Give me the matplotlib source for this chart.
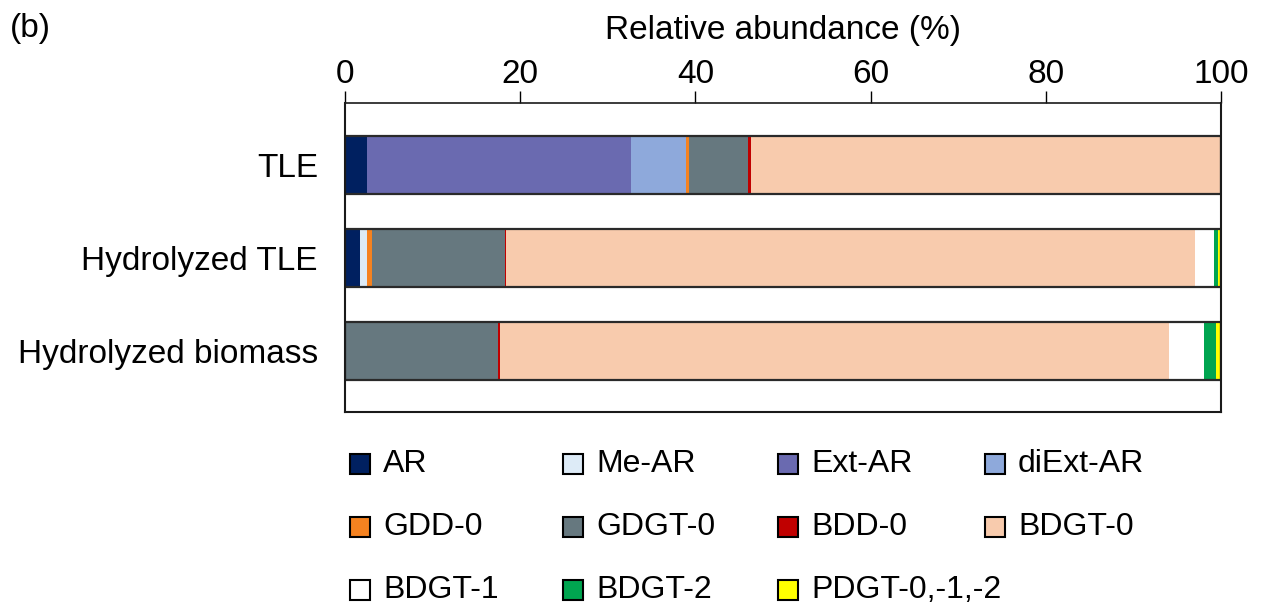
import matplotlib
matplotlib.use("Agg")
import matplotlib.pyplot as plt
from matplotlib.patches import Rectangle
import numpy as np

plt.rcParams['font.family'] = ['Liberation Sans', 'DejaVu Sans']

samples = ["TLE", "Hydrolyzed TLE", "Hydrolyzed biomass"]
components = ["AR", "Me-AR", "Ext-AR", "diExt-AR", "GDD-0", "GDGT-0",
              "BDD-0", "BDGT-0", "BDGT-1", "BDGT-2", "PDGT-0,-1,-2"]
colors = ["#002060", "#DDEBF7", "#6A6AB0", "#8EA9DB", "#F58220", "#66787F",
          "#C00000", "#F8CBAD", "#FFFFFF", "#00A550", "#FFFF00"]

# relative abundance (%) per component, one list per sample
tle        = [2.5, 0.0, 30.1, 6.3, 0.4, 6.7, 0.3, 53.7, 0.0, 0.0, 0.0]
hyd_tle    = [1.7, 0.8, 0.0, 0.0, 0.6, 15.2, 0.1, 78.6, 2.2, 0.5, 0.3]
hyd_bio    = [0.0, 0.0, 0.0, 0.0, 0.0, 17.5, 0.2, 76.4, 4.0, 1.3, 0.6]
data = np.array([tle, hyd_tle, hyd_bio])

fig = plt.figure(figsize=(12.63, 6.05), dpi=100)
ax = fig.add_axes([345/1263, 1-412/605, 876/1263, 309/605])

y = np.arange(len(samples))
h = 0.62
left = np.zeros(len(samples))
for j, comp in enumerate(components):
    ax.barh(y, data[:, j], left=left, height=h, color=colors[j], edgecolor='none')
    left += data[:, j]
ax.barh(y, data.sum(axis=1), height=h, fill=False, edgecolor='#2a2a2a', linewidth=1.6)

ax.set_xlim(0, 100)
ax.set_ylim(2.656, -0.667)
ax.set_yticks(y)
ax.set_yticklabels(samples, fontsize=24)
ax.tick_params(axis='y', length=0, pad=19.5)
ax.xaxis.tick_top()
ax.set_xticks([0, 20, 40, 60, 80, 100])
ax.tick_params(axis='x', labelsize=24, direction='out', length=8.6, width=1.0, pad=1)
for s in ax.spines.values():
    s.set_linewidth(1.5)
    s.set_color('#1a1a1a')
ax.spines['top'].set_linewidth(1.2)

fig.text(783/1263, 1-30/605, "Relative abundance (%)", fontsize=24, va='center', ha='center')
fig.text(10/1263, 1-28/605, "(b)", fontsize=24, va='center', ha='left')

# legend laid out manually in a 4-column grid
col_x = [350, 563, 778, 985]
row_y = [464, 527, 590]
for i, (comp, c) in enumerate(zip(components, colors)):
    r, k = divmod(i, 4)
    x0 = col_x[k]
    yc = row_y[r]
    fig.add_artist(Rectangle((x0/1263, 1-(yc+10)/605), 20/1263, 20/605,
                             transform=fig.transFigure, facecolor=c,
                             edgecolor='black', linewidth=1.5))
    fig.text((x0+33)/1263, 1-yc/605, comp, fontsize=23, va='center', ha='left')

fig.savefig("out.png", dpi=100)
